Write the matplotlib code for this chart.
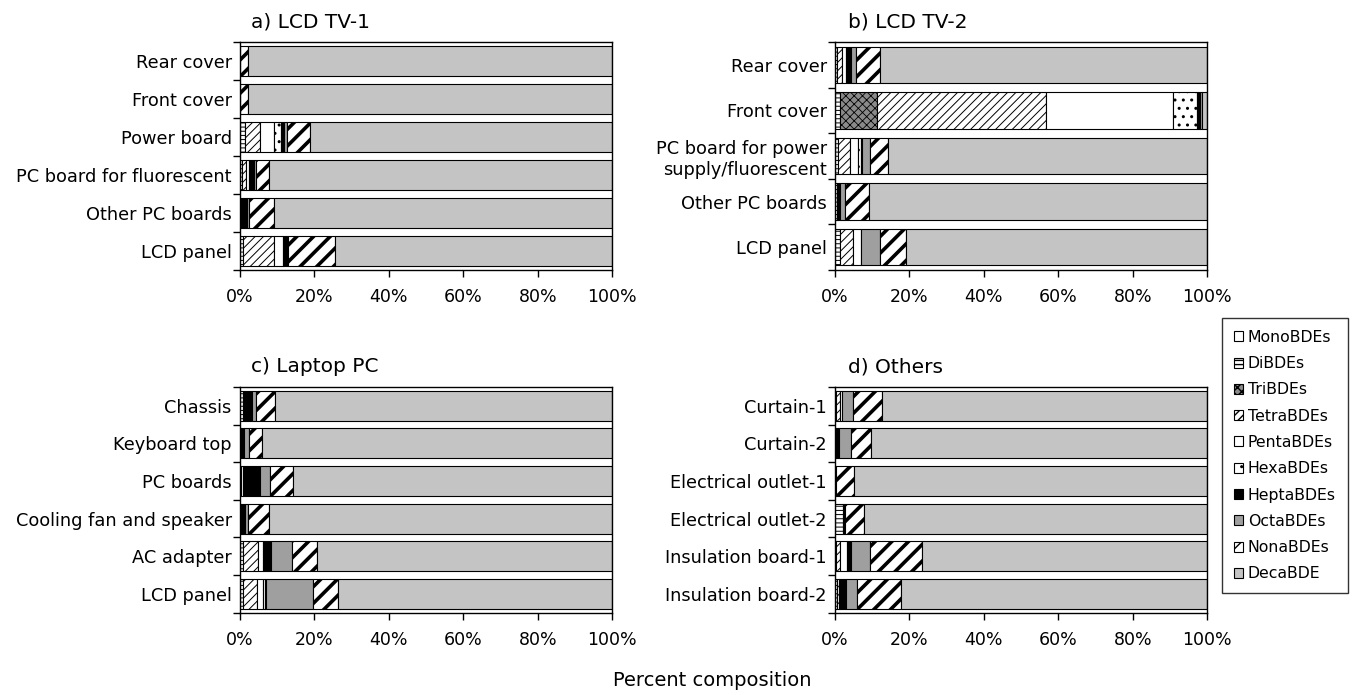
import matplotlib
matplotlib.use('Agg')
import matplotlib.pyplot as plt
import numpy as np
from matplotlib.patches import Patch

plt.rcParams['font.family'] = ['DejaVu Sans']

congeners = ["MonoBDEs", "DiBDEs", "TriBDEs", "TetraBDEs", "PentaBDEs",
             "HexaBDEs", "HeptaBDEs", "OctaBDEs", "NonaBDEs", "DecaBDE"]

# ---- a) LCD TV-1 ----  (Mono, Di, Tri, Tetra, Penta, Hexa, Hepta, Octa, Nona, Deca)
tv1_cats = ["Rear cover", "Front cover", "Power board",
            "PC board for fluorescent", "Other PC boards", "LCD panel"]
tv1_vals = [
    [0, 0, 0, 0, 0, 0, 0, 0, 2.2, 97.8],
    [0, 0, 0, 0, 0, 0, 0, 0, 2.2, 97.8],
    [0, 1.3, 0, 4.0, 3.8, 2.0, 0.8, 0.8, 6.0, 81.3],
    [0, 0.5, 0, 1.0, 0.8, 0.3, 1.2, 0.6, 3.5, 92.1],
    [0, 0, 0, 0, 0, 0, 1.8, 0.6, 6.7, 90.9],
    [0, 0.9, 0, 8.3, 2.4, 0, 1.3, 0, 12.5, 74.6],
]

# ---- b) LCD TV-2 ----
tv2_cats = ["Rear cover", "Front cover",
            "PC board for power\nsupply/fluorescent", "Other PC boards", "LCD panel"]
tv2_vals = [
    [0, 0.5, 0, 1.5, 1.0, 0, 1.3, 1.3, 6.5, 87.9],
    [0, 1.3, 10.0, 45.5, 34.0, 6.4, 0.8, 0.5, 0, 1.5],
    [0, 0.9, 0, 3.1, 2.2, 0.8, 0.3, 2.2, 4.8, 85.7],
    [0, 0.5, 0, 0, 0, 0, 0.9, 1.2, 6.6, 90.8],
    [0, 1.3, 0, 3.6, 2.2, 0, 0, 4.9, 7.2, 80.8],
]

# ---- c) Laptop PC ----
pc_cats = ["Chassis", "Keyboard top", "PC boards",
           "Cooling fan and speaker", "AC adapter", "LCD panel"]
pc_vals = [
    [0, 0.7, 0, 0, 0, 0, 2.4, 1.2, 5.1, 90.6],
    [0, 0, 0, 0, 0, 0, 1.1, 1.2, 3.7, 94.0],
    [0, 0.4, 0, 0, 0.5, 0, 4.5, 2.7, 6.2, 85.7],
    [0, 0, 0, 0, 0, 0, 1.3, 0.9, 5.7, 92.1],
    [0, 0.9, 0, 4.0, 1.3, 0, 2.2, 5.6, 6.6, 79.4],
    [0, 0.9, 0, 3.6, 1.6, 0.6, 0.4, 12.6, 6.7, 73.6],
]

# ---- d) Others ----
oth_cats = ["Curtain-1", "Curtain-2", "Electrical outlet-1",
            "Electrical outlet-2", "Insulation board-1", "Insulation board-2"]
oth_vals = [
    [0, 0.4, 0, 0.9, 0.6, 0, 0, 3.0, 7.8, 87.3],
    [0, 0.4, 0, 0, 0, 0, 0.6, 3.2, 5.4, 90.4],
    [0, 0, 0, 0, 0, 0, 0.4, 0, 4.7, 94.9],
    [0, 2.2, 0, 0, 0.3, 0, 0, 0.3, 4.9, 92.3],
    [0, 0.4, 0, 0.9, 1.8, 0, 1.2, 5.1, 13.9, 76.7],
    [0, 0.5, 0, 0.6, 0.3, 0, 1.5, 3.0, 11.8, 82.3],
]

xticks = [0, 20, 40, 60, 80, 100]
xticklabels = ["0%", "20%", "40%", "60%", "80%", "100%"]

# style per congener: facecolor, hatch, hatch linewidth
styles = [
    ("white", "", 0.8),
    ("white", "----", 0.7),
    ("#8a8a8a", "xxxx", 0.6),
    ("white", "////", 0.7),
    ("white", "", 0.8),
    ("white", "..", 1.0),
    ("black", "", 0.8),
    ("#9f9f9f", "", 0.8),
    ("white", "//", 2.6),
    ("#c4c4c4", "", 0.8),
]

W, H = 1354, 695
fig = plt.figure(figsize=(W / 100, H / 100), dpi=100)

def fx(px):
    return px / W

def fy(py):
    return 1 - py / H

axw = (612.3 - 240) / W
axes_specs = [
    (240, 42, 270, tv1_cats, tv1_vals, "a) LCD TV-1", 251),
    (835, 42, 270, tv2_cats, tv2_vals, "b) LCD TV-2", 848),
    (240, 387, 612.5, pc_cats, pc_vals, "c) Laptop PC", 251),
    (835, 387, 612.5, oth_cats, oth_vals, "d) Others", 848),
]

LBL_FS = 12.8

for left_px, top_px, bot_px, cats, vals, title, tx in axes_specs:
    ax = fig.add_axes([fx(left_px), fy(bot_px), axw, (bot_px - top_px) / H])
    n = len(cats)
    y = np.arange(n)
    arr = np.array(vals, dtype=float)
    left = np.zeros(n)
    for j, (face, hatch, hlw) in enumerate(styles):
        w = arr[:, j]
        m = w > 0
        if m.any():
            with plt.rc_context({'hatch.linewidth': hlw}):
                bars = ax.barh(y[m], w[m], left=left[m], height=0.8,
                               color=face, edgecolor='black', linewidth=0.8,
                               hatch=hatch if hatch else None, zorder=2)
            for b in bars:
                if hasattr(b, 'set_hatch_linewidth'):
                    b.set_hatch_linewidth(hlw)
        left = left + w
    ax.set_xlim(0, 100)
    ax.set_ylim(n - 0.5, -0.5)
    ax.set_xticks(xticks)
    ax.set_xticklabels(xticklabels, fontsize=12.5)
    ax.set_yticks(y)
    ax.set_yticklabels(cats, fontsize=LBL_FS)
    ax.set_yticks(np.arange(-0.5, n, 1.0), minor=True)
    ax.tick_params(axis='y', which='major', length=0, pad=6)
    ax.tick_params(axis='y', which='minor', length=5, width=1, direction='out')
    ax.tick_params(axis='x', which='major', length=5, width=1, direction='out', pad=8)
    for s in ax.spines.values():
        s.set_linewidth(1.0)
        s.set_color('black')
    fig.text(fx(tx), fy(top_px - 20), title, fontsize=14.5, ha='left', va='center')

fig.text(fx(613), fy(680), "Percent composition", fontsize=14, ha='left', va='center')

handles = []
for (face, hatch, hlw), name in zip(styles, congeners):
    p = Patch(facecolor=face, edgecolor='black', linewidth=0.8,
              hatch=hatch if hatch else None, label=name)
    handles.append(p)
leg = fig.legend(handles=handles, loc='upper left',
                 bbox_to_anchor=(fx(1222), fy(318)), bbox_transform=fig.transFigure,
                 fontsize=11.3, frameon=True, fancybox=False, borderaxespad=0,
                 handlelength=0.6, handleheight=0.6, handletextpad=0.3,
                 labelspacing=0.72, borderpad=0.75)
leg.get_frame().set_edgecolor('black')
leg.get_frame().set_linewidth(1.0)

fig.savefig("out.png", dpi=100)
